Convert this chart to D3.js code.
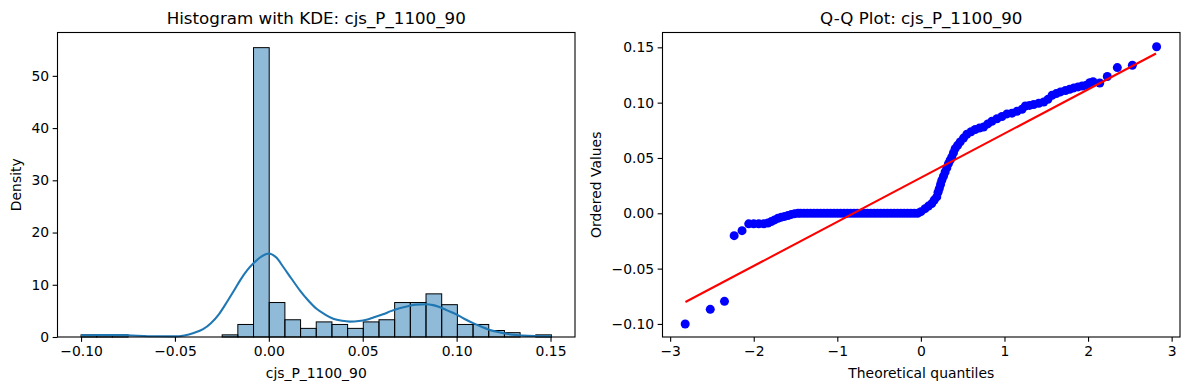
<!DOCTYPE html>
<html>
<head>
<meta charset="utf-8">
<script src="https://cdn.jsdelivr.net/npm/d3@7"></script>
<style>
  html, body { margin: 0; padding: 0; background: #fff; }
  svg { display: block; }
  text { font-family: "DejaVu Sans", sans-serif; fill: #000; }
</style>
</head>
<body>
<svg id="chart" width="1189" height="390"></svg>
<script>
// ---------------- data ----------------
const varName = "cjs_P_1100_90";

// histogram: 30 bins starting at binStart, each binWidth wide (density)
const binStart = -0.1;
const binWidth = 0.00835;
const binDensity = [0.41, 0.41, 0.41, 0, 0, 0, 0, 0, 0, 0.41,
                    2.40, 55.4, 6.6, 3.3, 1.65, 2.89, 2.40, 1.65, 2.89, 3.3,
                    6.6, 6.6, 8.26, 6.19, 2.40, 2.40, 1.24, 0.83, 0, 0.41];

// KDE curve
const kdeX = [-0.1, -0.09, -0.08, -0.07, -0.06, -0.05, -0.045, -0.04, -0.035, -0.031,
              -0.0265, -0.0223, -0.0187, -0.0152, -0.0117, -0.0082, -0.004, 0, 0.004, 0.0077,
              0.012, 0.0166, 0.021, 0.0254, 0.03, 0.0343, 0.039, 0.0431, 0.048, 0.052,
              0.056, 0.0608, 0.065, 0.0696, 0.074, 0.0785, 0.0838, 0.0875, 0.0908, 0.095,
              0.0997, 0.104, 0.1085, 0.113, 0.1173, 0.122, 0.1262, 0.13, 0.135, 0.142, 0.1505];
const kdeY = [0.33, 0.38, 0.36, 0.25, 0.13, 0.12, 0.3, 0.77, 1.5, 2.6,
              4.4, 6.7, 8.8, 10.9, 12.7, 14.1, 15.4, 16.0, 15.2, 13.4,
              11.2, 8.9, 7.0, 5.4, 4.3, 3.5, 3.1, 2.95, 3.05, 3.3,
              3.8, 4.35, 4.95, 5.5, 5.9, 6.2, 6.26, 6.1, 5.75, 5.1,
              4.35, 3.5, 2.7, 2.0, 1.4, 0.95, 0.65, 0.42, 0.27, 0.18, 0.15];

const histXTicks = [-0.10, -0.05, 0.00, 0.05, 0.10, 0.15];
const histYTicks = [0, 10, 20, 30, 40, 50];

// Q-Q plot points (theoretical quantile, ordered value)
const qqTheoretical = [
  -2.82, -2.52, -2.35, -2.234, -2.14, -2.06, -2.0, -1.94, -1.88, -1.83,
  -1.79, -1.75, -1.71, -1.67, -1.63, -1.59, -1.55, -1.51, -1.47,
  -1.44, -1.40, -1.36, -1.32, -1.28, -1.24, -1.20, -1.16, -1.12, -1.08,
  -1.04, -1.00, -0.96, -0.92, -0.88, -0.84, -0.80, -0.76, -0.72, -0.68,
  -0.64, -0.60, -0.56, -0.52, -0.48, -0.44, -0.40, -0.36, -0.32, -0.28,
  -0.24, -0.20, -0.16, -0.12, -0.08, -0.04,
  0.0, 0.05, 0.09, 0.13, 0.16, 0.19, 0.205, 0.22, 0.235, 0.25,
  0.27, 0.29, 0.31, 0.33, 0.35, 0.37, 0.39, 0.41, 0.44, 0.47,
  0.51, 0.55, 0.60, 0.65, 0.70, 0.75, 0.80, 0.85, 0.91, 0.97,
  1.03, 1.09, 1.15, 1.21, 1.25, 1.30, 1.35, 1.41, 1.47, 1.52,
  1.57, 1.62, 1.67, 1.73, 1.78, 1.83, 1.88, 1.93, 1.98, 2.02,
  2.06, 2.14, 2.23, 2.35, 2.53, 2.82];
const qqOrdered = [
  -0.100, -0.0868, -0.0796, -0.0202, -0.0157, -0.0095, -0.0095, -0.0095, -0.0094, -0.0088,
  -0.0075, -0.0060, -0.0045, -0.0035, -0.0028, -0.0020, -0.0010, -0.0003, 0,
  0, 0, 0, 0, 0, 0, 0, 0, 0, 0,
  0, 0, 0, 0, 0, 0, 0, 0, 0, 0,
  0, 0, 0, 0, 0, 0, 0, 0, 0, 0,
  0, 0, 0, 0, 0, 0,
  0.0015, 0.0042, 0.0065, 0.0088, 0.012, 0.0148, 0.019, 0.0223, 0.026, 0.0298,
  0.0335, 0.0373, 0.041, 0.0449, 0.048, 0.0509, 0.0547, 0.0585, 0.0615, 0.0645,
  0.068, 0.0714, 0.0737, 0.0757, 0.0770, 0.0780, 0.0808, 0.0832, 0.0855, 0.0875,
  0.0898, 0.0905, 0.0922, 0.0940, 0.0970, 0.0975, 0.0983, 0.0995, 0.1006, 0.1030,
  0.1067, 0.1082, 0.1097, 0.1110, 0.1121, 0.1133, 0.1142, 0.1150, 0.1157, 0.1180,
  0.1190, 0.1178, 0.1236, 0.1317, 0.1338, 0.1505];

// fitted reference line endpoints
const qqLineX = [-2.817, 2.813];
const qqLineY = [-0.0802, 0.1444];

const qqXTicks = [-3, -2, -1, 0, 1, 2, 3];
const qqYTicks = [-0.10, -0.05, 0.00, 0.05, 0.10, 0.15];

// ---------------- drawing ----------------
const svg = d3.select("#chart");
svg.append("rect").attr("width", 1189).attr("height", 390).attr("fill", "#fff");

const TICK_FS = "13.9px", LABEL_FS = "13.9px", TITLE_FS = "16.7px";
const minusFmt = f => v => f(v).replace("-", "\u2212");

function frame(g, x, y, xTicks, yTicks, xFmt, yFmt, title, xLabel, yLabel, yLabelX) {
  const [x0, x1] = x.range();
  const [y0, y1] = y.range(); // y0 bottom, y1 top
  const xAxis = d3.axisBottom(x).tickValues(xTicks).tickFormat(xFmt).tickSize(4.86).tickPadding(3.5);
  const yAxis = d3.axisLeft(y).tickValues(yTicks).tickFormat(yFmt).tickSize(4.86).tickPadding(3.5);
  const gx = g.append("g").attr("transform", `translate(0,${y0})`).call(xAxis);
  const gy = g.append("g").attr("transform", `translate(${x0},0)`).call(yAxis);
  [gx, gy].forEach(a => {
    a.select(".domain").remove();
    a.selectAll("line").attr("stroke", "#000").attr("stroke-width", 1.1);
    a.selectAll("text").style("font-size", TICK_FS).attr("fill", "#000")
      .style("font-family", "'DejaVu Sans', sans-serif");
  });
  gx.selectAll("text").attr("dy", "0.76em");
  // spines
  g.append("rect").attr("x", x0).attr("y", y1).attr("width", x1 - x0).attr("height", y0 - y1)
    .attr("fill", "none").attr("stroke", "#000").attr("stroke-width", 1.1);
  g.append("text").attr("x", (x0 + x1) / 2).attr("y", y1 - 8.3)
    .attr("text-anchor", "middle").style("font-size", TITLE_FS).text(title);
  g.append("text").attr("x", (x0 + x1) / 2).attr("y", 378)
    .attr("text-anchor", "middle").style("font-size", LABEL_FS).text(xLabel);
  g.append("text").attr("transform", `translate(${yLabelX},${(y0 + y1) / 2}) rotate(-90)`)
    .attr("text-anchor", "middle").style("font-size", LABEL_FS).text(yLabel);
}

// ---- Left: histogram + KDE ----
const L = { left: 57.5, right: 575, top: 32.5, bottom: 337 };
const xH = d3.scaleLinear().domain([-0.11253, 0.16303]).range([L.left, L.right]);
const yH = d3.scaleLinear().domain([0, 58.3]).range([L.bottom, L.top]);
const gL = svg.append("g");

const bins = binDensity.map((d, i) => ({ x0: binStart + i * binWidth, x1: binStart + (i + 1) * binWidth, d }));
gL.append("g").selectAll("rect").data(bins.filter(b => b.d > 0)).join("rect")
  .attr("x", b => xH(b.x0))
  .attr("width", b => xH(b.x1) - xH(b.x0))
  .attr("y", b => yH(b.d))
  .attr("height", b => yH(0) - yH(b.d))
  .attr("fill", "rgba(31,119,180,0.5)")
  .attr("stroke", "#000").attr("stroke-width", 1);

const kdePts = kdeX.map((v, i) => [v, kdeY[i]]);
gL.append("path").datum(kdePts)
  .attr("d", d3.line().x(p => xH(p[0])).y(p => yH(p[1])).curve(d3.curveMonotoneX))
  .attr("fill", "none").attr("stroke", "#1f77b4").attr("stroke-width", 2.08);

frame(gL, xH, yH, histXTicks, histYTicks, minusFmt(d3.format(".2f")), d3.format("d"),
  `Histogram with KDE: ${varName}`, varName, "Density", 21);

// ---- Right: Q-Q plot ----
const R = { left: 662.5, right: 1180, top: 32.5, bottom: 337 };
const xQ = d3.scaleLinear().domain([-3.0915, 3.1]).range([R.left, R.right]);
const yQ = d3.scaleLinear().domain([-0.1118, 0.1634]).range([R.bottom, R.top]);
const gR = svg.append("g");

const qqPts = qqTheoretical.map((q, i) => [q, qqOrdered[i]]);
gR.append("g").selectAll("circle").data(qqPts).join("circle")
  .attr("cx", p => xQ(p[0])).attr("cy", p => yQ(p[1])).attr("r", 4.5)
  .attr("fill", "#0000ff");

gR.append("line")
  .attr("x1", xQ(qqLineX[0])).attr("y1", yQ(qqLineY[0]))
  .attr("x2", xQ(qqLineX[1])).attr("y2", yQ(qqLineY[1]))
  .attr("stroke", "#ff0000").attr("stroke-width", 2.08);

frame(gR, xQ, yQ, qqXTicks, qqYTicks, minusFmt(d3.format("d")), minusFmt(d3.format(".2f")),
  `Q-Q Plot: ${varName}`, "Theoretical quantiles", "Ordered Values", 601);
</script>
</body>
</html>
